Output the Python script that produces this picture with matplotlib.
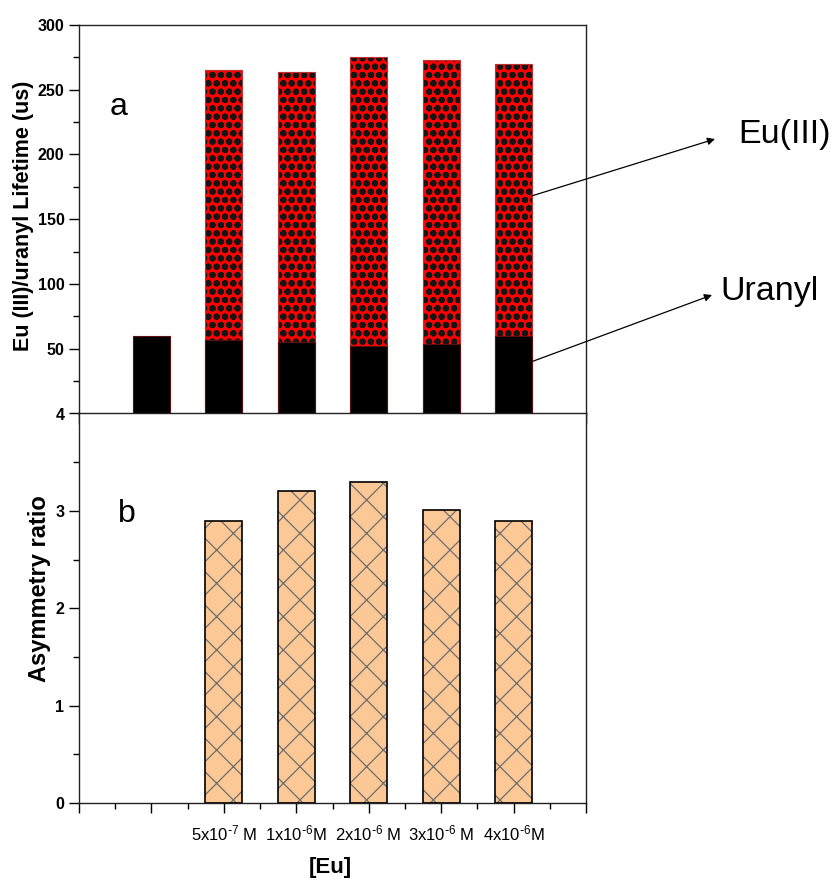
import numpy as np
import matplotlib
matplotlib.use('Agg')
import matplotlib.pyplot as plt

plt.rcParams['font.family'] = ['Liberation Sans', 'DejaVu Sans']
plt.rcParams['mathtext.default'] = 'regular'

# Eu concentration series (first position = uranyl only, no Eu)
positions = [1, 2, 3, 4, 5, 6]
conc_labels = ['', r'5x10$^{\text{-}7}$ M', r'1x10$^{\text{-}6}$M',
               r'2x10$^{\text{-}6}$ M', r'3x10$^{\text{-}6}$ M',
               r'4x10$^{\text{-}6}$M']
uranyl_lifetime = [60, 57, 55, 52, 54, 60]
eu_positions = [2, 3, 4, 5, 6]
eu_lifetime = [265, 264, 275, 273, 270]
asym_ratio = [2.9, 3.2, 3.3, 3.01, 2.9]

W, H = 839, 882
fig = plt.figure(figsize=(W / 100, H / 100), dpi=100)


def fx(px):
    return px / W


def fy(py):
    return 1 - py / H


left, right = 79, 586
ax1 = fig.add_axes([fx(left), fy(413.5), fx(right - left), fy(25) - fy(413.5)])
ax2 = fig.add_axes([fx(left), fy(803), fx(right - left), fy(413.5) - fy(803)])

bw = 0.51

# (a) lifetimes: Eu(III) bar behind, uranyl in front
with plt.rc_context({'hatch.linewidth': 2.1}):
    ax1.bar(eu_positions, eu_lifetime, width=bw, color='#ff0000',
            edgecolor='#151515', hatch='oo', linewidth=0, zorder=2)
ax1.bar(eu_positions, eu_lifetime, width=bw, fill=False,
        edgecolor='#c03030', linewidth=0.8, zorder=3)
ax1.bar(positions, uranyl_lifetime, width=bw, color='black',
        edgecolor='#5a1010', linewidth=0.8, zorder=4)

ax1.set_ylim(0, 300)
ax1.set_yticks([50, 100, 150, 200, 250, 300])
ax1.set_yticks(np.arange(25, 300, 25), minor=True)

# (b) asymmetry ratio
with plt.rc_context({'hatch.linewidth': 0.9}):
    ax2.bar(eu_positions, asym_ratio, width=bw, color='#fcc896',
            edgecolor='#6e6e6e', hatch='x', linewidth=0, zorder=2)
ax2.bar(eu_positions, asym_ratio, width=bw, fill=False,
        edgecolor='black', linewidth=1.2, zorder=3)

ax2.set_ylim(0, 4)
ax2.set_yticks([0, 1, 2, 3, 4])
ax2.set_yticks(np.arange(0.5, 4, 0.5), minor=True)

for ax in (ax1, ax2):
    ax.set_xlim(0, 7)
    ax.set_xticks(range(0, 8))
    ax.set_xticks(np.arange(0.5, 7, 0.5), minor=True)
    ax.tick_params(axis='both', which='major', direction='out', length=7,
                   width=1, labelsize=11.5)
    ax.tick_params(axis='both', which='minor', direction='out', length=4,
                   width=1)
    ax.tick_params(top=False, right=False, which='both')
    for lbl in ax.get_yticklabels():
        lbl.set_fontweight('bold')
    for s in ax.spines.values():
        s.set_linewidth(1.0)
        s.set_color('#222222')

ax1.set_xticklabels([])
ax2.set_xticklabels([''] + conc_labels + [''], fontsize=12)
ax2.tick_params(axis='x', pad=8)

fig.text(fx(24), fy(216), 'Eu (III)/uranyl Lifetime (us)', rotation=90,
         ha='center', va='center', fontsize=15.5, fontweight='bold')
fig.text(fx(40), fy(589), 'Asymmetry ratio', rotation=90,
         ha='center', va='center', fontsize=17, fontweight='bold')
fig.text(fx(330), fy(868), '[Eu]', ha='center', va='center',
         fontsize=16, fontweight='bold')

fig.text(fx(110), fy(115), 'a', fontsize=23, va='baseline')
fig.text(fx(118), fy(522), 'b', fontsize=23, va='baseline')

# callouts pointing from the last bar to the series names
arrow = dict(arrowstyle='-|>', color='black', lw=0.9, mutation_scale=11,
             shrinkA=0, shrinkB=0)
ax1.annotate('', xy=(fx(715), fy(139)), xycoords='figure fraction',
             xytext=(6.25, 168), textcoords='data', arrowprops=arrow,
             annotation_clip=False)
ax1.annotate('', xy=(fx(712), fy(295)), xycoords='figure fraction',
             xytext=(6.25, 40), textcoords='data', arrowprops=arrow,
             annotation_clip=False)
fig.text(fx(738), fy(143), 'Eu(III)', fontsize=24.5, va='baseline')
fig.text(fx(720), fy(300), 'Uranyl', fontsize=24.5, va='baseline')

fig.savefig('out.png', dpi=100)
